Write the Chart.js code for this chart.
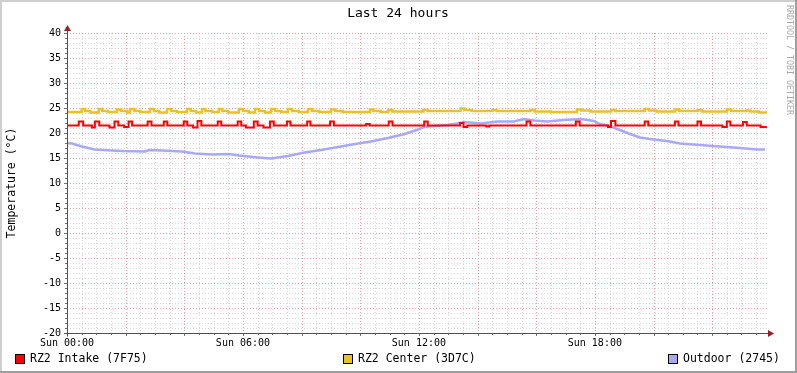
<!DOCTYPE html>
<html>
<head>
<meta charset="utf-8">
<script src="https://cdn.jsdelivr.net/npm/chart.js@4/dist/chart.umd.min.js"></script>
<style>
  html, body { margin: 0; padding: 0; background: #fff; }
  canvas { display: block; }
</style>
</head>
<body>
<canvas id="chart" width="797" height="373"></canvas>
<script>
// hours since Sun 00:00, temperatures in degC
const intakeHours = [0, 0.40, 0.55, 0.85, 0.95, 1.10, 1.45, 1.62, 1.75, 1.95, 2.10, 2.22, 2.75, 2.88, 3.30, 3.42,
  3.98, 4.10, 4.30, 4.45, 4.58, 5.14, 5.26, 5.82, 5.94, 6.10, 6.37, 6.50, 6.70, 6.92, 7.05, 7.50, 7.62,
  8.19, 8.30, 8.97, 9.10, 10.20, 10.32, 10.97, 11.10, 12.18, 12.30, 13.40, 13.52, 13.65, 14.30, 14.40,
  15.67, 15.80, 17.35, 17.48, 18.45, 18.55, 18.70, 19.70, 19.82, 20.73, 20.85, 21.50, 21.62, 22.35,
  22.50, 22.62, 23.05, 23.18, 23.65, 23.85]
const intakeTemps = [21.5, 22.3, 21.5, 21.1, 22.3, 21.5, 21.1, 22.3, 21.5, 21.2, 22.3, 21.5, 22.3, 21.5, 22.3, 21.5,
  22.3, 21.5, 21.1, 22.4, 21.5, 22.3, 21.5, 22.3, 21.5, 21.1, 22.3, 21.5, 21.1, 22.3, 21.5, 22.3, 21.5,
  22.3, 21.5, 22.3, 21.5, 21.8, 21.5, 22.3, 21.5, 22.3, 21.5, 22.0, 21.2, 21.5, 21.3, 21.5,
  22.3, 21.5, 22.3, 21.5, 21.2, 22.4, 21.5, 22.3, 21.5, 22.3, 21.5, 22.3, 21.5, 21.2,
  22.3, 21.5, 22.2, 21.5, 21.2, 21.3]

const centerHours = [0, 0.50, 0.62, 0.80, 1.08, 1.20, 1.40, 1.70, 1.85, 2.05, 2.15, 2.30, 2.50, 2.83, 2.97, 3.15,
  3.41, 3.55, 3.75, 4.09, 4.22, 4.40, 4.60, 4.72, 4.95, 5.18, 5.30, 5.50, 5.86, 6.00, 6.20, 6.41, 6.55,
  6.75, 6.96, 7.10, 7.30, 7.53, 7.68, 7.90, 8.22, 8.35, 8.60, 9.00, 9.15, 9.40, 10.33, 10.45, 10.70,
  10.95, 11.10, 12.15, 12.30, 13.42, 13.55, 13.80, 14.50, 14.65, 15.80, 15.95, 16.50, 17.39, 17.55,
  17.85, 18.55, 18.70, 19.70, 19.85, 20.10, 20.73, 20.88, 21.51, 21.65, 22.50, 22.65, 23.18, 23.30,
  23.60, 23.85]
const centerTemps = [24.2, 24.8, 24.4, 24.1, 24.8, 24.4, 24.2, 24.7, 24.4, 24.1, 24.8, 24.4, 24.2, 24.8, 24.4, 24.1,
  24.8, 24.4, 24.2, 24.8, 24.4, 24.1, 24.8, 24.4, 24.2, 24.8, 24.4, 24.1, 24.8, 24.4, 24.1, 24.8, 24.4,
  24.1, 24.8, 24.4, 24.2, 24.8, 24.4, 24.2, 24.8, 24.4, 24.2, 24.7, 24.4, 24.2, 24.7, 24.4, 24.2,
  24.6, 24.3, 24.6, 24.4, 24.9, 24.6, 24.4, 24.6, 24.4, 24.6, 24.3, 24.2, 24.7, 24.5,
  24.3, 24.6, 24.4, 24.8, 24.5, 24.3, 24.7, 24.4, 24.6, 24.3, 24.7, 24.4, 24.5, 24.3,
  24.1, 24.0]

const outdoorHours = [0, 0.17, 0.51, 0.95, 1.53, 1.88, 2.66, 2.80, 3.24, 3.92, 4.36, 4.94, 5.52, 5.86, 6.51, 6.96,
  7.53, 8.11, 8.66, 9.24, 9.82, 10.36, 10.94, 11.52, 11.97, 12.17, 12.96, 13.30, 13.54, 14.12, 14.66,
  15.24, 15.58, 15.92, 16.37, 16.95, 17.52, 17.97, 18.17, 18.51, 18.85, 19.20, 19.54, 19.88, 20.56,
  20.90, 21.58, 22.26, 22.95, 23.53, 23.80]
const outdoorTemps = [18.0, 17.9, 17.3, 16.7, 16.5, 16.4, 16.3, 16.6, 16.5, 16.3, 15.9, 15.7, 15.8, 15.5, 15.1, 14.9,
  15.4, 16.1, 16.6, 17.2, 17.8, 18.3, 19.0, 19.8, 20.7, 21.2, 21.6, 21.9, 22.2, 21.9, 22.3,
  22.3, 22.8, 22.5, 22.3, 22.6, 22.8, 22.4, 21.8, 21.4, 20.6, 19.8, 19.1, 18.8, 18.3,
  17.9, 17.6, 17.3, 17.0, 16.7, 16.7]

const labelHours = [0, 6, 12, 18]
const labelTexts = ['Sun 00:00', 'Sun 06:00', 'Sun 12:00', 'Sun 18:00']
const legendNames = ['RZ2 Intake (7F75)', 'RZ2 Center (3D7C)', 'Outdoor (2745)']

const colors = ['#FF0000', '#E9C12A', '#A8A8F8']
const mono = '"DejaVu Sans Mono", monospace'

const toPoints = (xs, ys) => xs.map((x, i) => ({ x: x, y: ys[i] }))

const rrdDecor = {
  id: 'rrdDecor',
  beforeDraw(chart) {
    const c = chart.ctx
    const W = chart.width, H = chart.height
    c.save()
    c.fillStyle = '#fff'
    c.fillRect(0, 0, W, H)
    // 3d-ish frame like rrdtool
    c.fillStyle = '#cfcfcf'
    c.fillRect(0, 0, W, 2)
    c.fillRect(0, 0, 2, H)
    c.fillStyle = '#9e9e9e'
    c.fillRect(W - 2, 0, 2, H)
    c.fillRect(0, H - 2, W, 2)
    c.restore()
  },
  beforeDatasetsDraw(chart) {
    const c = chart.ctx
    const { left, right, top, bottom } = chart.chartArea
    const xs = chart.scales.x, ys = chart.scales.y
    c.save()
    c.lineWidth = 1
    c.setLineDash([1, 2])
    // minor horizontal
    c.strokeStyle = '#d8d8d8'
    for (let v = ys.min; v <= ys.max; v += 1) {
      if (v % 5 === 0) continue
      const y = Math.round(ys.getPixelForValue(v)) + 0.5
      c.beginPath(); c.moveTo(left, y); c.lineTo(right, y); c.stroke()
    }
    // minor vertical (30 min)
    for (let h = 0.5; h < xs.max; h += 0.5) {
      if (h % 2 === 0) continue
      const x = Math.round(xs.getPixelForValue(h)) + 0.5
      c.beginPath(); c.moveTo(x, top); c.lineTo(x, bottom); c.stroke()
    }
    // major grid
    c.strokeStyle = '#eaa0a0'
    for (let v = ys.min; v <= ys.max; v += 5) {
      const y = Math.round(ys.getPixelForValue(v)) + 0.5
      c.beginPath(); c.moveTo(left, y); c.lineTo(right, y); c.stroke()
    }
    for (let h = 2; h < xs.max; h += 2) {
      const x = Math.round(xs.getPixelForValue(h)) + 0.5
      c.beginPath(); c.moveTo(x, top); c.lineTo(x, bottom); c.stroke()
    }
    c.restore()
  },
  afterDatasetsDraw(chart) {
    const c = chart.ctx
    const { left, right, top, bottom } = chart.chartArea
    const xs = chart.scales.x, ys = chart.scales.y
    c.save()
    c.lineWidth = 1
    c.strokeStyle = '#707070'
    // tick marks
    c.beginPath()
    for (let v = ys.min; v <= ys.max; v += 1) {
      const y = Math.round(ys.getPixelForValue(v)) + 0.5
      c.moveTo(left - (v % 5 === 0 ? 3 : 2), y); c.lineTo(left, y)
    }
    for (let h = 0; h < xs.max; h += 0.5) {
      const x = Math.round(xs.getPixelForValue(h)) + 0.5
      c.moveTo(x, bottom); c.lineTo(x, bottom + (h % 2 === 0 ? 3 : 2))
    }
    c.stroke()
    // axes
    c.strokeStyle = '#505050'
    const ax = Math.round(left) + 0.5, ay = Math.round(bottom) + 0.5
    c.beginPath()
    c.moveTo(ax, ay + 3); c.lineTo(ax, top - 3)
    c.moveTo(ax - 3, ay); c.lineTo(right + 3, ay)
    c.stroke()
    // arrows
    c.fillStyle = '#9a2020'
    c.beginPath()
    c.moveTo(ax, top - 8); c.lineTo(ax - 3.5, top - 2); c.lineTo(ax + 3.5, top - 2); c.closePath()
    c.fill()
    c.beginPath()
    c.moveTo(right + 7, ay); c.lineTo(right + 1, ay - 3.5); c.lineTo(right + 1, ay + 3.5); c.closePath()
    c.fill()
    c.restore()
  },
  afterDraw(chart) {
    const c = chart.ctx
    const { top, bottom } = chart.chartArea
    c.save()
    c.fillStyle = '#000'
    c.textBaseline = 'middle'
    c.textAlign = 'center'
    c.font = '13px ' + mono
    c.fillText('Last 24 hours', 398, 14)
    // y title
    c.save()
    c.translate(12, (top + bottom) / 2)
    c.rotate(-Math.PI / 2)
    c.font = '11.5px ' + mono
    c.fillText('Temperature (°C)', 0, 0)
    c.restore()
    // watermark
    c.save()
    c.translate(789, 5)
    c.rotate(Math.PI / 2)
    c.textAlign = 'left'
    c.fillStyle = '#a8a8a8'
    c.font = '8.3px ' + mono
    c.fillText('RRDTOOL / TOBI OETIKER', 0, 0)
    c.restore()
    // legend
    const boxX = [15, 343, 668]
    c.font = '11.5px ' + mono
    c.textAlign = 'left'
    legendNames.forEach((name, i) => {
      c.fillStyle = colors[i]
      c.fillRect(boxX[i], 354, 9, 9)
      c.strokeStyle = '#000'
      c.lineWidth = 1
      c.strokeRect(boxX[i] + 0.5, 354.5, 9, 9)
      c.fillStyle = '#000'
      c.fillText(name, boxX[i] + 15, 359)
    })
    c.restore()
  }
}

const ctx = document.getElementById('chart')
new Chart(ctx, {
  type: 'line',
  data: {
    datasets: [
      { data: toPoints(intakeHours, intakeTemps), borderColor: colors[0], borderWidth: 2, stepped: 'before' },
      { data: toPoints(centerHours, centerTemps), borderColor: colors[1], borderWidth: 2.5, stepped: 'before' },
      { data: toPoints(outdoorHours, outdoorTemps), borderColor: colors[2], borderWidth: 2.5, tension: 0 }
    ]
  },
  options: {
    responsive: false,
    animation: false,
    events: [],
    elements: { point: { radius: 0 } },
    layout: { padding: { top: 33, right: 30, left: 0, bottom: 0 } },
    plugins: { legend: { display: false }, tooltip: { enabled: false }, title: { display: false } },
    scales: {
      x: {
        type: 'linear',
        min: 0,
        max: 23.87,
        afterFit: s => { s.height = 40 },
        grid: { display: false, drawTicks: false },
        border: { display: false },
        afterBuildTicks: s => { s.ticks = labelHours.map(h => ({ value: h })) },
        ticks: {
          autoSkip: false,
          maxRotation: 0,
          padding: 4,
          color: '#000',
          font: { family: mono, size: 10 },
          callback: v => labelTexts[labelHours.indexOf(v)] || ''
        }
      },
      y: {
        min: -20,
        max: 40,
        afterFit: s => { s.width = 67 },
        grid: { display: false, drawTicks: false },
        border: { display: false },
        ticks: {
          stepSize: 5,
          padding: 6,
          color: '#000',
          font: { family: mono, size: 10 }
        }
      }
    }
  },
  plugins: [rrdDecor]
})
</script>
</body>
</html>
